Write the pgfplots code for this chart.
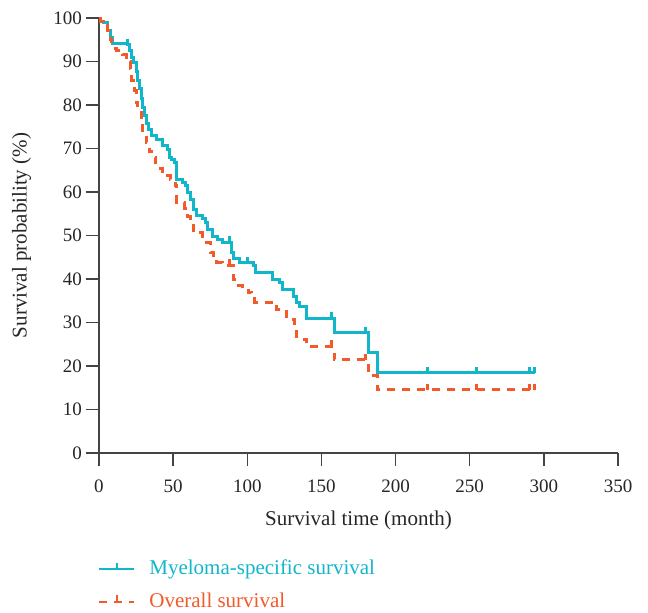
\documentclass[border=0pt]{standalone}
\usepackage{pgfplots}
\pgfplotsset{compat=1.18}
\usepackage{fontspec}
\setmainfont{Liberation Serif}
\definecolor{MSS}{HTML}{12B6CA}
\definecolor{OS}{HTML}{F15A29}
\definecolor{AxisGray}{HTML}{444444}

\pgfdeclareplotmark{uptick}{%
  \pgfpathmoveto{\pgfpoint{0pt}{0pt}}%
  \pgfpathlineto{\pgfpoint{0pt}{\pgfplotmarksize}}%
  \pgfusepathqstroke}

\begin{document}
\begin{tikzpicture}
\begin{axis}[
  width=259.5pt, height=217.5pt, scale only axis,
  xmin=0, xmax=350, ymin=0, ymax=100,
  axis lines=left,
  axis line style={-, AxisGray, line width=0.75pt},
  every tick/.style={AxisGray, line width=0.75pt},
  tick align=outside,
  major tick length=6.5pt,
  xtick={0,50,...,350}, ytick={0,10,...,100},
  tick label style={font=\fontsize{9.5}{11}\selectfont, text=black!85},
  /pgf/number format/assume math mode=true,
  xticklabel style={yshift=-3.5pt},
  yticklabel style={xshift=1.5pt},
  xlabel={Survival time (month)},
  ylabel={Survival probability (\%)},
  label style={font=\fontsize{10.5}{12}\selectfont, text=black!85},
  xlabel style={at={(axis description cs:0.5,-0.117)}, anchor=north},
  ylabel style={at={(axis description cs:-0.117,0.5)}, anchor=south},
  clip=false,
  legend style={at={(axis description cs:-0.002,-0.227)}, anchor=north west,
    draw=none, fill=none, inner xsep=0pt, row sep=3.5pt,
    font=\fontsize{10.5}{12}\selectfont,
    nodes={inner xsep=7pt}},
  legend cell align=left,
  legend image code/.code={
    \draw[#1,line width=1pt] (0pt,0pt) -- (17.5pt,0pt);
    \draw[#1,line width=1pt,solid] (9pt,0pt) -- (9pt,3.2pt);
  },
]
% Myeloma-specific survival
\addplot[const plot, MSS, line width=1.5pt, mark=none] coordinates {
(0,100) (1,99.3) (3,98.9) (6,97.2) (7.5,95.6) (9,94.2) (19,93.8) (20.5,92.6)
(22,91) (23.5,89.7) (25,87.6) (26,85.7) (27.5,83.9) (28.5,81.5) (29.5,79.5)
(30.5,77.5) (32,75.8) (33.5,74.3) (35.5,73.1) (39,72) (43,70.8) (46,69.7)
(47.5,68) (49,67.4) (51,66.7) (52.5,62.8) (56,62.3) (58,61.6) (60,59.8)
(61.5,58.2) (63.5,55.9) (66,54.7) (69.5,54) (71.5,52.9) (73.5,51.3) (76.5,49.7)
(80,49) (83,48.5) (89.5,46) (90.5,44.8) (95,43.7) (104,43.2) (105.5,41.5)
(117,39.8) (122,39.3) (123.5,37.7) (131,35.9) (133.5,34.7) (135.5,33.6)
(140,31) (158.5,27.6) (182,23.1) (188,18.4) (294,18.4)
};
\addlegendentry{\textcolor{MSS}{Myeloma-specific survival}}
% Overall survival
\addplot[const plot, OS, line width=1.5pt, dash pattern=on 4pt off 3.5pt, mark=none] coordinates {
(0,100) (1,99.3) (3,98.9) (6,97.2) (7.5,95) (8.5,93.1) (12,92.6) (13,92)
(16,91.5) (18.5,91) (19.5,89.9) (21,88.5) (21.5,87.4) (22,85.7) (23,84.6)
(24,83.4) (25,80.5) (26,78.9) (28.5,75.9) (29.5,73.6) (32,71.3) (34,69.2)
(36.5,68) (38,66.7) (40,65.5) (43,64.6) (46.5,63.9) (48,62.8) (51.5,61.6)
(52.5,57.5) (57.5,56.3) (60,54.3) (61.5,52.4) (63.5,50.6) (69.5,49.4)
(72.5,48.3) (75,46.2) (77,45) (79.5,43.9) (83.5,43.2) (90.5,39.8) (91.5,38.6)
(96.5,37.9) (100.5,37) (103,36.3) (105,34.6) (120,32.9) (126.5,31.3)
(130,30.6) (132,28.3) (133.5,26.2) (140,24.4) (158.5,21.4) (181.5,17.9)
(187.5,14.5) (294,14.5)
};
\addlegendentry{\textcolor{OS}{Overall survival}}
% censoring marks
\addplot[forget plot, only marks, mark=uptick, mark size=3.2pt, MSS, line width=1.5pt] coordinates {
(19,93.8) (88,48.5) (100,43.7) (157,31) (179.5,27.6) (221.5,18.4) (254.5,18.4) (290,18.4) (294,18.4)
};
\addplot[forget plot, only marks, mark=uptick, mark size=3.2pt, OS, line width=1.5pt] coordinates {
(88,43.2) (157,24.4) (179.5,21.4) (221.5,14.5) (254.5,14.5) (290,14.5) (294,14.5)
};
\end{axis}
\pgfresetboundingbox
\path (-49.5pt,-79.5pt) rectangle (274.5pt,226.5pt);
\end{tikzpicture}
\end{document}
